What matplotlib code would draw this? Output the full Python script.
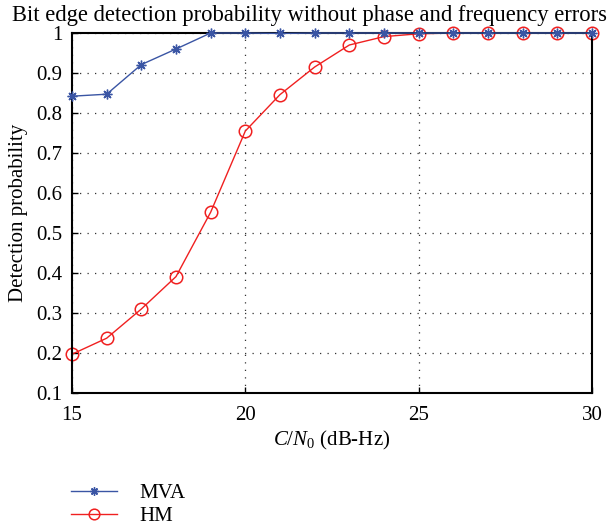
import matplotlib
matplotlib.use("Agg")
import matplotlib.pyplot as plt

plt.rcParams['font.family'] = ['Liberation Serif', 'DejaVu Serif']
plt.rcParams['mathtext.fontset'] = 'custom'
plt.rcParams['mathtext.it'] = 'Liberation Serif:italic'
plt.rcParams['mathtext.rm'] = 'Liberation Serif'

cn0 = [15, 16, 17, 18, 19, 20, 21, 22, 23, 24, 25, 26, 27, 28, 29, 30]
mva = [0.842, 0.847, 0.921, 0.960, 1.0, 1.0, 0.999, 1.0, 1.0, 1.0, 1.0, 1.0, 1.0, 1.0, 1.0, 1.0]
hm = [0.197, 0.237, 0.310, 0.391, 0.552, 0.755, 0.846, 0.915, 0.970, 0.991, 0.998, 1.0, 1.0, 1.0, 1.0, 1.0]

fig = plt.figure(figsize=(6.11, 5.31), dpi=100)
ax = fig.add_axes([72/611, 1-393/531, 520/611, 360/531])

l1, = ax.plot(cn0, mva, color='#3a55a4', marker=(8, 2, 0), markersize=7, markeredgewidth=1.0,
              linewidth=1.0, label='MVA', clip_on=False, zorder=3)
l2, = ax.plot(cn0, hm, color='#f02020', marker='o', markersize=9, markerfacecolor='none',
              markeredgewidth=1.1, linewidth=1.0, label='HM', clip_on=False, zorder=2)

ax.set_xlim(15, 30)
ax.set_ylim(0.1, 1.0)
ax.set_xticks([15, 20, 25, 30])
ax.set_yticks([0.1, 0.2, 0.3, 0.4, 0.5, 0.6, 0.7, 0.8, 0.9, 1.0])
ax.set_yticklabels(['0.1', '0.2', '0.3', '0.4', '0.5', '0.6', '0.7', '0.8', '0.9', '1'])
ax.tick_params(direction='in', labelsize=15, length=4, width=1)
ax.tick_params(axis='y', pad=7)
ax.tick_params(axis='x', pad=9)
ax.grid(True, linestyle=(0, (1, 5)), color='#333333', linewidth=0.9)
for s in ax.spines.values():
    s.set_linewidth(1.5)

ax.set_xlabel('$C/N_0$ (dB-Hz)', fontsize=15, labelpad=3)
ax.set_ylabel('Detection probability', fontsize=15, labelpad=6)
fig.text(12/611, 1-15/531, 'Bit edge detection probability without phase and frequency errors',
         fontsize=16.3, va='center', ha='left')

leg = fig.legend(handles=[l1, l2], loc='upper left', bbox_to_anchor=(52/611, 1-465/531),
                 frameon=False, fontsize=15, handlelength=2.2, handletextpad=1.1,
                 labelspacing=0.15, markerscale=0.85)

fig.savefig('out.png', dpi=100)
